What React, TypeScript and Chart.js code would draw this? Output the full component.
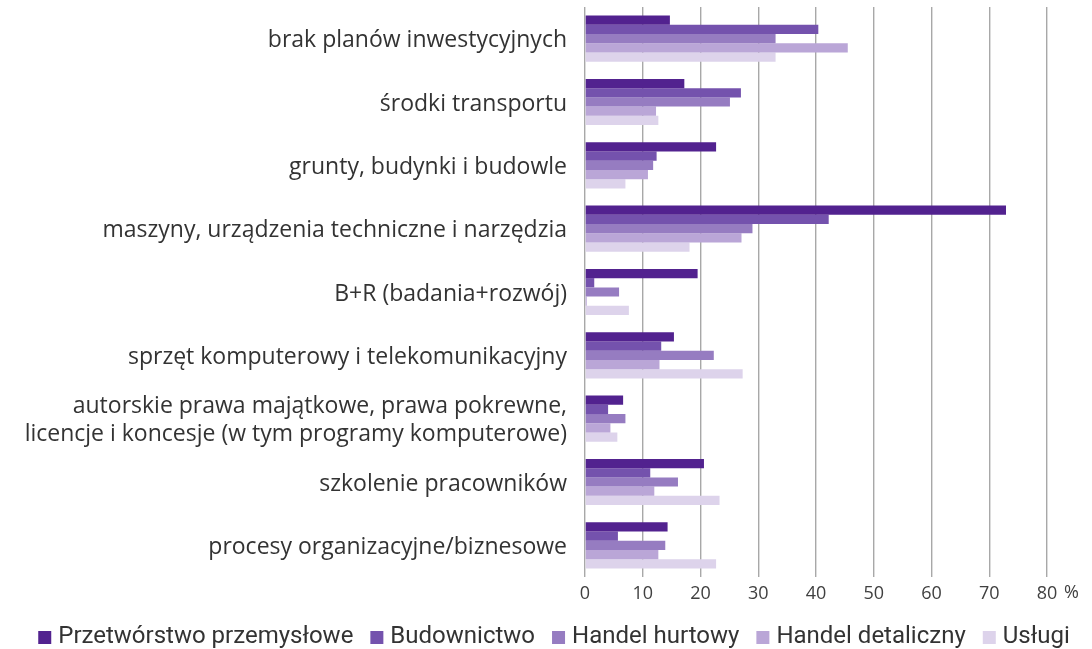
import React, { useEffect, useRef } from "react";
import { Chart, registerables } from "chart.js";

Chart.register(...registerables);

const categories: (string | string[])[] = [
  "brak planów inwestycyjnych",
  "środki transportu",
  "grunty, budynki i budowle",
  "maszyny, urządzenia techniczne i narzędzia",
  "B+R (badania+rozwój)",
  "sprzęt komputerowy i telekomunikacyjny",
  ["autorskie prawa majątkowe, prawa pokrewne,", "licencje i koncesje (w tym programy komputerowe)"],
  "szkolenie pracowników",
  "procesy organizacyjne/biznesowe",
];

const seriesNames = [
  "Przetwórstwo przemysłowe",
  "Budownictwo",
  "Handel hurtowy",
  "Handel detaliczny",
  "Usługi",
];

const przetworstwo = [14.7, 17.2, 22.7, 72.9, 19.5, 15.4, 6.6, 20.6, 14.3];
const budownictwo = [40.4, 27.0, 12.4, 42.2, 1.6, 13.2, 4.0, 11.3, 5.7];
const handelHurtowy = [33.0, 25.1, 11.8, 29.0, 5.9, 22.3, 7.0, 16.1, 13.9];
const handelDetaliczny = [45.5, 12.3, 10.9, 27.1, 0.3, 12.9, 4.4, 12.0, 12.7];
const uslugi = [33.0, 12.7, 7.0, 18.1, 7.6, 27.3, 5.6, 23.3, 22.7];

const colors = ["#52228f", "#7452ad", "#967cc1", "#baa6d7", "#ddd3eb"];

const xTicks = [0, 10, 20, 30, 40, 50, 60, 70, 80];

const FONT = "'Open Sans', 'Noto Sans', sans-serif";
const LEGEND_FONT = "Roboto, sans-serif";

const percentPlugin = {
  id: "percentSign",
  afterDraw(chart: any) {
    const x = chart.scales.x;
    const ctx = chart.ctx;
    const last = xTicks[xTicks.length - 1];
    const px = x.getPixelForValue(last);
    ctx.save();
    ctx.font = `18px ${FONT}`;
    ctx.fillStyle = "#404040";
    ctx.textAlign = "left";
    ctx.textBaseline = "middle";
    ctx.fillText("%", px + 17, 593);
    ctx.restore();
  },
};

const legendPlugin = {
  id: "customLegend",
  afterDraw(chart: any) {
    const ctx = chart.ctx;
    const box = 13;
    const gapText = 7;
    const gapItem = 17;
    const cy = 637;
    ctx.save();
    ctx.font = `24px ${LEGEND_FONT}`;
    const widths = chart.data.datasets.map((ds: any) => ctx.measureText(ds.label).width);
    const total =
      widths.reduce((a: number, w: number) => a + box + gapText + w, 0) + gapItem * (widths.length - 1);
    let x = 554 - total / 2;
    ctx.textBaseline = "middle";
    ctx.textAlign = "left";
    chart.data.datasets.forEach((ds: any, i: number) => {
      ctx.fillStyle = ds.backgroundColor;
      ctx.fillRect(x, cy - 6, box, box);
      x += box + gapText;
      ctx.fillStyle = "#333333";
      ctx.fillText(ds.label, x, cy);
      x += widths[i] + gapItem;
    });
    ctx.restore();
  },
};

export default function App() {
  const ref = useRef<HTMLCanvasElement | null>(null);

  useEffect(() => {
    if (!ref.current) return;
    const data = [przetworstwo, budownictwo, handelHurtowy, handelDetaliczny, uslugi];
    const chart = new Chart(ref.current, {
      type: "bar",
      data: {
        labels: categories,
        datasets: data.map((d, i) => ({
          label: seriesNames[i],
          data: d,
          backgroundColor: colors[i],
          borderWidth: 0,
          categoryPercentage: 0.73,
          barPercentage: 1.0,
        })),
      },
      options: {
        indexAxis: "y",
        animation: false,
        responsive: false,
        layout: { padding: { top: 7, right: 45, left: 0, bottom: 42 } },
        plugins: {
          tooltip: { enabled: false },
          legend: { display: false },
        },
        scales: {
          x: {
            min: 0,
            max: 80,
            afterBuildTicks: (axis: any) => {
              axis.ticks = xTicks.map((v) => ({ value: v }));
            },
            afterFit: (axis: any) => {
              axis.height = 30;
            },
            grid: { color: "#a8a8a8", lineWidth: 1.4, drawTicks: false },
            border: { display: false },
            ticks: {
              padding: 6,
              color: "#404040",
              font: { family: FONT, size: 18 },
            },
          },
          y: {
            afterFit: (axis: any) => {
              axis.width = 585;
              axis.paddingTop = 0;
              axis.paddingBottom = 0;
            },
            grid: { display: false, drawTicks: false },
            border: { display: false },
            ticks: {
              padding: 18,
              labelOffset: 2,
              color: "#333333",
              font: { family: FONT, size: 23, lineHeight: 1.22 },
            },
          },
        },
      },
      plugins: [percentPlugin, legendPlugin],
    } as any);
    return () => chart.destroy();
  }, []);

  return (
    <div style={{ position: "fixed", left: 0, top: 0, width: 1092, height: 649, background: "#fff" }}>
      <canvas ref={ref} width={1092} height={649} />
    </div>
  );
}
